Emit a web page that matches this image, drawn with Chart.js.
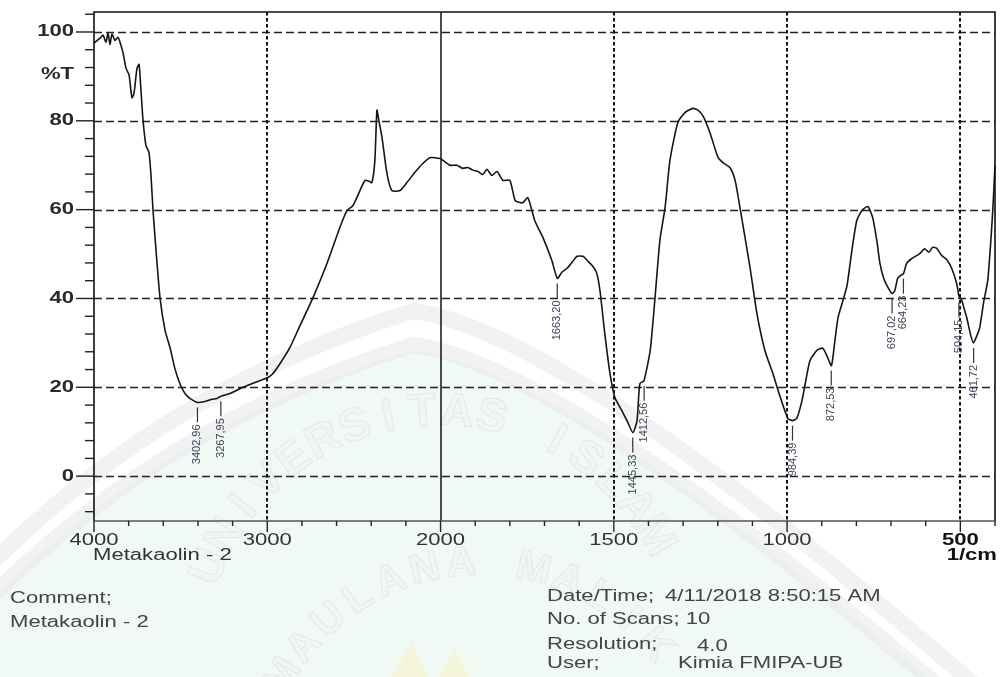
<!DOCTYPE html>
<html>
<head>
<meta charset="utf-8">
<title>FTIR Metakaolin - 2</title>
<script src="https://cdn.jsdelivr.net/npm/chart.js@4.4.1/dist/chart.umd.min.js"></script>
<style>
    html, body { margin: 0; padding: 0; background: #fff; }
    #wrap { width: 1001px; height: 677px; position: relative; }
</style>
</head>
<body>
<div id="wrap"><canvas id="irChart"></canvas></div>
<script>
// spectrum (wavenumber 1/cm, %T)
const wavenumbers = [
    4000, 3965, 3948, 3931, 3919, 3908, 3896, 3879, 3862, 3850,
    3833, 3815, 3798, 3781, 3769, 3752, 3740, 3729, 3717, 3700,
    3683, 3671, 3660, 3642, 3619, 3590, 3561, 3533, 3504, 3475,
    3446, 3403, 3360, 3319, 3290, 3268, 3215, 3140, 3071, 2996,
    2967, 2927, 2869, 2811, 2736, 2656, 2581, 2540, 2506, 2483,
    2465, 2436, 2413, 2396, 2379, 2367, 2356, 2338, 2309, 2281,
    2234, 2194, 2148, 2102, 2061, 2003, 1973, 1953, 1936, 1921,
    1907, 1892, 1878, 1866, 1852, 1837, 1820, 1800, 1785, 1771,
    1762, 1748, 1728, 1705, 1679, 1663, 1650, 1635, 1621, 1606,
    1589, 1577, 1560, 1549, 1540, 1526, 1511, 1497, 1482, 1462,
    1445, 1433, 1425, 1413, 1395, 1381, 1367, 1352, 1338, 1315,
    1294, 1271, 1257, 1242, 1222, 1199, 1182, 1165, 1150, 1136,
    1107, 1087, 1064, 1041, 1021, 998, 984, 972, 957, 946,
    934, 914, 897, 885, 872, 862, 853, 839, 827, 813,
    799, 784, 767, 753, 741, 732, 721, 709, 697, 689,
    681, 672, 664, 655, 640, 617, 603, 591, 580, 568,
    554, 539, 525, 510, 504, 497, 490, 481, 470, 462,
    452, 444, 432, 421, 412, 406, 400
];
const transmittance = [
    97.5, 98.6, 99.3, 97.7, 99.7, 97.2, 99.5, 98.1, 98.8, 97.7,
    95.4, 91.8, 90.4, 85.2, 86.2, 91.8, 92.7, 86.9, 80.1, 74.4,
    72.9, 67.7, 60.2, 50.8, 40.2, 32.8, 28.9, 24.2, 20.8, 18.6,
    17.5, 16.6, 16.8, 17.3, 17.5, 18.0, 18.6, 20.0, 21.1, 22.2,
    23.1, 25.3, 29.0, 33.9, 40.2, 47.8, 56.0, 59.8, 60.9, 62.7,
    64.3, 66.6, 66.4, 66.1, 71.1, 82.4, 80.1, 76.3, 68.1, 64.3,
    64.3, 66.1, 68.4, 70.4, 71.7, 71.5, 70.0, 70.0, 69.3, 69.5,
    68.9, 68.6, 67.9, 69.1, 67.7, 68.6, 66.6, 66.6, 62.1, 61.6,
    61.6, 62.7, 57.5, 53.8, 48.6, 44.5, 45.9, 46.8, 48.1, 49.5,
    49.5, 48.6, 47.2, 45.6, 41.8, 32.1, 23.1, 17.7, 15.5, 12.5,
    9.8, 12.5, 20.8, 21.5, 28.3, 40.2, 53.1, 60.5, 71.1, 79.7,
    81.9, 82.8, 82.4, 81.0, 77.2, 71.7, 70.4, 69.5, 66.6, 60.5,
    47.0, 36.6, 28.3, 23.1, 18.1, 13.0, 12.5, 13.0, 17.0, 21.5,
    26.0, 28.3, 28.8, 27.1, 24.9, 30.5, 35.7, 39.5, 42.9, 50.8,
    57.5, 59.8, 60.7, 58.2, 53.0, 47.9, 44.5, 42.5, 41.1, 41.8,
    44.5, 45.2, 45.6, 47.9, 49.0, 50.1, 51.2, 50.4, 51.5, 51.3,
    49.7, 48.7, 46.8, 43.2, 40.5, 39.8, 38.0, 35.5, 31.7, 30.0,
    31.7, 33.5, 39.5, 44.0, 53.0, 60.5, 70.0
];

// picked peaks
const peakWavenumbers = [3402.96, 3267.95, 1663.20, 1445.33, 1412.56, 984.39, 872.53, 697.02, 664.23, 504.15, 461.72];
const peakTransmittance = [16.6, 18.0, 44.5, 9.8, 21.5, 12.5, 24.9, 41.1, 45.6, 40.2, 30.0];
const peakLabels = ['3402,96', '3267,95', '1663,20', '1445,33', '1412,56', '984,39', '872,53', '697,02', '664,23', '504,15', '461,72'];

// axis ticks
const xMajorTicks = [4000, 3000, 2000, 1500, 1000, 500];
const yMajorTicks = [0, 20, 40, 60, 80, 100];

// instrument axis: 4000-2000 compressed, below 2000 twice as wide
function axisUnits(w) {
    return w >= 2000 ? 4000 - w : 2000 + 2 * (2000 - w);
}
function unitsToWavenumber(u) {
    return u <= 2000 ? 4000 - u : 2000 - (u - 2000) / 2;
}

class SplitScale extends Chart.LinearScale {
    determineDataLimits() {
        this.min = 400;
        this.max = 4000;
    }
    buildTicks() {
        return xMajorTicks.map(v => ({ value: v }));
    }
    getPixelForValue(value) {
        return this.left + this.width * axisUnits(value) / axisUnits(400);
    }
    getValueForPixel(pixel) {
        return unitsToWavenumber((pixel - this.left) / this.width * axisUnits(400));
    }
}
SplitScale.id = 'split';
SplitScale.defaults = Chart.LinearScale.defaults;
Chart.register(SplitScale);

const FONT = '"Liberation Sans", Arial, sans-serif';

// printout text is horizontally stretched
function stretchText(ctx, text, x, y, size, bold, align, color) {
    ctx.save();
    ctx.font = (bold ? 'bold ' : '') + size + 'px ' + FONT;
    ctx.fillStyle = color;
    ctx.textAlign = align;
    ctx.textBaseline = 'middle';
    ctx.translate(x, y);
    ctx.scale(1.38, 1);
    ctx.fillText(text, 0, 0);
    ctx.restore();
}

function arcText(ctx, text, cx, cy, r, startDeg, stepDeg, size) {
    ctx.save();
    ctx.font = 'bold ' + size + 'px ' + FONT;
    ctx.textAlign = 'center';
    ctx.textBaseline = 'alphabetic';
    ctx.fillStyle = 'rgba(242,242,242,0.5)';
    ctx.strokeStyle = 'rgba(205,205,205,0.35)';
    ctx.lineWidth = 1;
    for (let i = 0; i < text.length; i++) {
        const a = (startDeg + i * stepDeg) * Math.PI / 180;
        ctx.save();
        ctx.translate(cx + r * Math.cos(a), cy + r * Math.sin(a));
        ctx.rotate(a + Math.PI / 2);
        ctx.fillText(text[i], 0, 0);
        ctx.strokeText(text[i], 0, 0);
        ctx.restore();
    }
    ctx.restore();
}

// faint university watermark behind the plot
function drawWatermark(ctx) {
    ctx.save();
    ctx.beginPath();
    ctx.moveTo(-20, 610);
    ctx.quadraticCurveTo(160, 425, 413, 350);
    ctx.quadraticCurveTo(580, 370, 1060, 790);
    ctx.lineTo(-20, 790);
    ctx.closePath();
    ctx.fillStyle = 'rgba(232,245,237,0.6)';
    ctx.fill();

    ctx.strokeStyle = 'rgba(232,232,232,0.55)';
    ctx.lineWidth = 16;
    ctx.beginPath();
    ctx.moveTo(-20, 575);
    ctx.quadraticCurveTo(160, 390, 413, 311);
    ctx.quadraticCurveTo(580, 332, 1060, 760);
    ctx.stroke();
    ctx.beginPath();
    ctx.moveTo(-20, 608);
    ctx.quadraticCurveTo(160, 424, 413, 345);
    ctx.quadraticCurveTo(580, 366, 1060, 792);
    ctx.stroke();

    arcText(ctx, 'UNIVERSITAS ISLAM', 440, 660, 235, -158, 8, 46);
    arcText(ctx, 'MAULANA MALIK', 480, 790, 215, -150, 9.2, 42);

    ctx.fillStyle = 'rgba(250,240,185,0.45)';
    ctx.beginPath();
    ctx.moveTo(392, 677); ctx.lineTo(412, 643); ctx.lineTo(428, 677); ctx.closePath();
    ctx.moveTo(438, 677); ctx.lineTo(455, 650); ctx.lineTo(470, 677); ctx.closePath();
    ctx.fill();
    ctx.restore();
}

const printoutPlugin = {
    id: 'printout',
    beforeDraw(chart) {
        const ctx = chart.ctx;
        ctx.save();
        ctx.fillStyle = '#fff';
        ctx.fillRect(0, 0, chart.width, chart.height);
        ctx.restore();
        drawWatermark(ctx);
    },
    beforeDatasetsDraw(chart) {
        const { ctx, chartArea: a, scales: { x, y } } = chart;
        ctx.save();
        // horizontal dashed grid
        ctx.strokeStyle = '#222';
        ctx.lineWidth = 1.3;
        ctx.setLineDash([8, 4]);
        yMajorTicks.forEach(v => {
            const py = Math.round(y.getPixelForValue(v)) + 0.5;
            ctx.beginPath();
            ctx.moveTo(a.left, py);
            ctx.lineTo(a.right, py);
            ctx.stroke();
        });
        // vertical dotted grid, solid at the scale change
        xMajorTicks.forEach(v => {
            if (v === 4000) return;
            const px = Math.round(x.getPixelForValue(v));
            ctx.beginPath();
            if (v === 2000) {
                ctx.setLineDash([]);
                ctx.lineWidth = 1.5;
            } else {
                ctx.setLineDash([3.5, 2.5]);
                ctx.lineWidth = 2;
            }
            ctx.strokeStyle = '#111';
            ctx.moveTo(px, a.top);
            ctx.lineTo(px, a.bottom);
            ctx.stroke();
        });
        ctx.restore();
    },
    afterDatasetsDraw(chart) {
        const { ctx, chartArea: a, scales: { x, y } } = chart;
        ctx.save();
        ctx.setLineDash([]);

        // frame
        ctx.strokeStyle = '#111';
        ctx.lineWidth = 1.6;
        ctx.beginPath();
        ctx.moveTo(a.left, a.bottom);
        ctx.lineTo(a.left, a.top);
        ctx.lineTo(a.right, a.top);
        ctx.lineTo(a.right, a.bottom);
        ctx.stroke();
        ctx.strokeStyle = '#555';
        ctx.beginPath();
        ctx.moveTo(a.left, a.bottom);
        ctx.lineTo(a.right, a.bottom);
        ctx.stroke();

        // y ticks every 4 %T, long ones at labels
        ctx.strokeStyle = '#222';
        ctx.lineWidth = 1.4;
        for (let v = -8; v <= 104; v += 4) {
            const py = y.getPixelForValue(v);
            const len = yMajorTicks.includes(v) ? 18 : 9;
            ctx.beginPath();
            ctx.moveTo(a.left - len, py);
            ctx.lineTo(a.left, py);
            ctx.stroke();
        }
        // x ticks: 200 above 2000, 100 below
        for (let w = 4000; w >= 400; w -= (w > 2000 ? 200 : 100)) {
            const px = x.getPixelForValue(w);
            const len = xMajorTicks.includes(w) ? 11 : 5;
            ctx.beginPath();
            ctx.moveTo(px, a.bottom);
            ctx.lineTo(px, a.bottom + len);
            ctx.stroke();
        }

        // tick labels
        yMajorTicks.forEach(v => {
            stretchText(ctx, String(v), a.left - 20, y.getPixelForValue(v), 16, true, 'right', '#2a2a2a');
        });
        stretchText(ctx, '%T', a.left - 20, 75, 16, true, 'right', '#2a2a2a');
        xMajorTicks.forEach(v => {
            stretchText(ctx, String(v), x.getPixelForValue(v), a.bottom + 20, 16, v === 500, 'center', v === 500 ? '#111' : '#333');
        });
        stretchText(ctx, '1/cm', a.right + 2, a.bottom + 35, 16, true, 'right', '#111');
        stretchText(ctx, 'Metakaolin - 2', 93, a.bottom + 35, 16, false, 'left', '#333');

        // peak markers
        ctx.strokeStyle = '#333';
        ctx.lineWidth = 1.2;
        ctx.fillStyle = '#3b4658';
        ctx.font = '11px ' + FONT;
        peakWavenumbers.forEach((w, i) => {
            const px = x.getPixelForValue(w);
            const py = y.getPixelForValue(peakTransmittance[i]);
            ctx.beginPath();
            ctx.moveTo(px, py + 5);
            ctx.lineTo(px, py + 20);
            ctx.stroke();
            ctx.save();
            ctx.translate(px, py + 22);
            ctx.rotate(-Math.PI / 2);
            ctx.textAlign = 'right';
            ctx.textBaseline = 'middle';
            ctx.fillText(peakLabels[i], 0, 0);
            ctx.restore();
        });

        // instrument footer
        stretchText(ctx, 'Comment;', 10, 599, 16, false, 'left', '#444');
        stretchText(ctx, 'Metakaolin - 2', 10, 623, 16, false, 'left', '#444');
        stretchText(ctx, 'Date/Time;', 547, 597, 16, false, 'left', '#444');
        stretchText(ctx, '4/11/2018 8:50:15 AM', 665, 597, 16, false, 'left', '#444');
        stretchText(ctx, 'No. of Scans; 10', 547, 620, 16, false, 'left', '#444');
        stretchText(ctx, 'Resolution;', 547, 645, 16, false, 'left', '#444');
        stretchText(ctx, '4.0', 697, 647, 16, false, 'left', '#444');
        stretchText(ctx, 'User;', 547, 664, 16, false, 'left', '#444');
        stretchText(ctx, 'Kimia FMIPA-UB', 678, 664, 16, false, 'left', '#444');
        ctx.restore();
    }
};

const ctx = document.getElementById('irChart').getContext('2d');
new Chart(ctx, {
    type: 'line',
    data: {
        datasets: [{
            label: 'Metakaolin - 2',
            data: wavenumbers.map((w, i) => ({ x: w, y: transmittance[i] })),
            borderColor: '#151515',
            borderWidth: 1.6,
            pointRadius: 0,
            tension: 0.2,
            fill: false
        }]
    },
    options: {
        responsive: true,
        maintainAspectRatio: false,
        animation: false,
        layout: {
            padding: { left: 94, right: 6, top: 12, bottom: 156 }
        },
        scales: {
            x: { type: 'split', display: false },
            y: { type: 'linear', min: -10.1, max: 104.5, display: false }
        },
        plugins: {
            legend: { display: false },
            tooltip: { enabled: false }
        }
    },
    plugins: [printoutPlugin]
});
</script>
</body>
</html>
